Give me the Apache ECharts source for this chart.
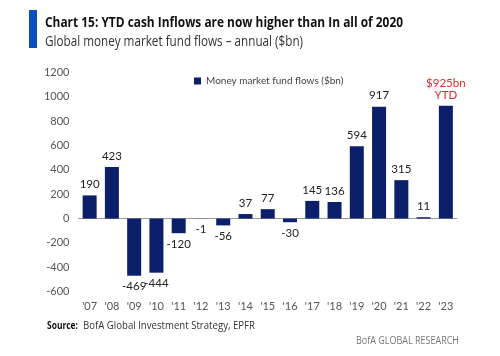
<!DOCTYPE html>
<html><head><meta charset="utf-8">
<script src="https://cdn.jsdelivr.net/npm/echarts@6/dist/echarts.min.js"></script>
<style>html,body{margin:0;padding:0;background:#fff}#c{width:500px;height:356px}</style>
</head><body><div id="c"></div>
<script>
const categories = ["'07","'08","'09","'10","'11","'12","'13","'14","'15","'16","'17","'18","'19","'20","'21","'22","'23"];
const flows = [190, 423, -469, -444, -120, -1, -56, 37, 77, -30, 145, 136, 594, 917, 315, 11, 925];
const yTicks = [-600, 1200, 200];
const seriesName = 'Money market fund flows ($bn)';
const lastLabel = '$925bn\nYTD';

const font = '"Lato", sans-serif';
const wideFont = '"Open Sans", "Noto Sans", sans-serif';
const ctx = document.createElement('canvas').getContext('2d');
function fitText(text, fontSpec, x, y, target, fill, align) {
  ctx.font = fontSpec;
  const w = ctx.measureText(text).width;
  return {type: 'text', x: x, y: y, scaleX: target / w, silent: true,
    style: {text: text, font: fontSpec, fill: fill, textAlign: align || 'left', textVerticalAlign: 'middle'}};
}
const chart = echarts.init(document.getElementById('c'), null, {renderer: 'canvas'});
const data = flows.map((v, i) => {
  const d = {value: v};
  if (i === flows.length - 1) {
    d.label = {formatter: lastLabel, color: '#e0282e', lineHeight: 12};
  }
  return d;
});
chart.setOption({
  animation: false,
  textStyle: {fontFamily: font},
  graphic: [
    {type: 'rect', left: 29, top: 10, shape: {width: 8, height: 38}, style: {fill: '#0a4fc0'}},
    fitText('Chart 15: YTD cash Inflows are now higher than In all of 2020', 'bold 15px ' + wideFont, 45, 23, 358, '#111'),
    fitText('Global money market fund flows – annual ($bn)', '14px ' + wideFont, 45, 42, 258, '#333'),
    fitText('Source:', 'bold 11px ' + wideFont, 47, 326, 31, '#111'),
    fitText('BofA Global Investment Strategy, EPFR', '11px ' + wideFont, 83, 326, 172, '#333'),
    fitText('BofA GLOBAL RESEARCH', '11px ' + wideFont, 459, 341, 103, '#777', 'right')
  ],
  legend: {
    data: [seriesName], left: 189, top: 71, itemWidth: 7, itemHeight: 7, itemGap: 3,
    icon: 'rect', textStyle: {fontSize: 10, color: '#444', fontFamily: font}
  },
  grid: {left: 78.5, right: 43, top: 72.3, bottom: 64.3, containLabel: false},
  xAxis: {
    type: 'category', data: categories,
    axisLine: {onZero: true, lineStyle: {color: '#999', width: 1}},
    axisTick: {show: false},
    axisLabel: {interval: 0, color: '#555', fontSize: 11, margin: 9, fontFamily: font}
  },
  yAxis: {
    type: 'value', min: yTicks[0], max: yTicks[1], interval: yTicks[2],
    splitLine: {show: false}, axisLine: {show: false}, axisTick: {show: false},
    axisLabel: {color: '#555', fontSize: 11, margin: 9, fontFamily: font, formatter: v => String(v)}
  },
  series: [{
    name: seriesName, type: 'bar', data: data, barWidth: 14,
    itemStyle: {color: '#0c1f6b'},
    label: {show: true, position: 'outside', color: '#222', fontSize: 11.5, distance: 5, fontFamily: font,
      formatter: p => String(p.value)}
  }]
});
</script></body></html>
